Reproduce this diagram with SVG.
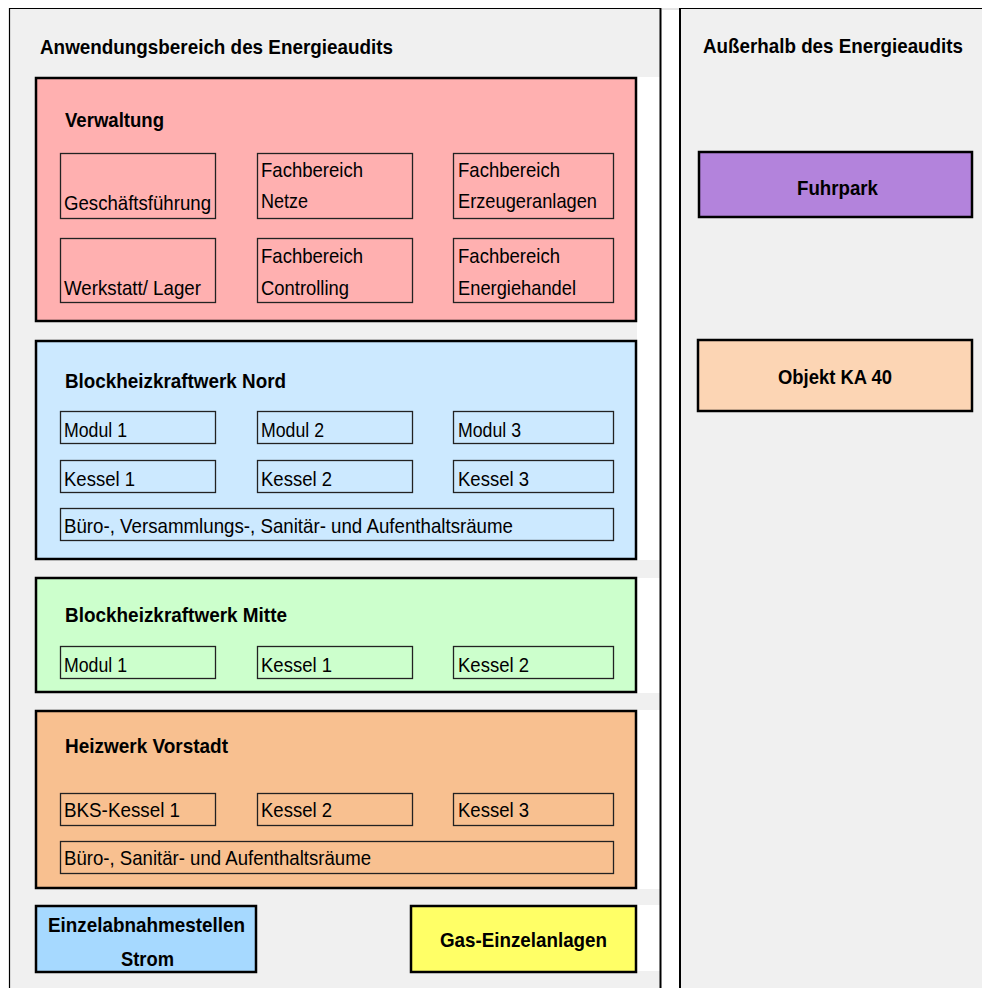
<svg xmlns="http://www.w3.org/2000/svg" width="982" height="988" viewBox="0 0 982 988">
<style>
text{font-family:"Liberation Sans",Arial,sans-serif;font-size:21px;fill:#000}
.b{font-weight:bold}
.outer{stroke:#000;stroke-width:2.5}
.inner{fill:none;stroke:#222;stroke-width:1.3}
</style>
<rect width="982" height="988" fill="#fff"/>
<g id="panel-left">
<rect x="9" y="8" width="652" height="980" fill="#f0f0f0"/>
<rect x="637" y="77" width="23" height="483" fill="#fff"/>
<rect x="637" y="578" width="23" height="115" fill="#fff"/>
<rect x="637" y="710" width="23" height="179" fill="#fff"/>
<rect x="637" y="905" width="23" height="66" fill="#fff"/>
<path d="M9.5 988V8.5H661" fill="none" stroke="#000" stroke-width="1.2"/>
<line x1="660.5" y1="8" x2="660.5" y2="988" stroke="#000" stroke-width="2"/>
<text class="b" x="40" y="54" textLength="353" lengthAdjust="spacingAndGlyphs">Anwendungsbereich des Energieaudits</text>
</g>
<g id="panel-right">
<rect x="680" y="8" width="302" height="980" fill="#f0f0f0"/>
<line x1="662" y1="9" x2="680" y2="9" stroke="#ccc" stroke-width="1"/>
<path d="M680 8.5H982" stroke="#000" stroke-width="1.2"/>
<line x1="680" y1="8" x2="680" y2="988" stroke="#000" stroke-width="2"/>
<text class="b" x="703" y="53" textLength="260" lengthAdjust="spacingAndGlyphs">Außerhalb des Energieaudits</text>
</g>
<g id="verwaltung">
<rect class="outer" x="36" y="78" width="600" height="243" fill="#ffb0b0"/>
<text class="b" x="65" y="127" textLength="99" lengthAdjust="spacingAndGlyphs">Verwaltung</text>
<rect class="inner" x="60.5" y="153.5" width="155" height="65"/>
<rect class="inner" x="257.5" y="153.5" width="155" height="65"/>
<rect class="inner" x="453.5" y="153.5" width="160" height="65"/>
<rect class="inner" x="60.5" y="238.5" width="155" height="64"/>
<rect class="inner" x="257.5" y="238.5" width="155" height="64"/>
<rect class="inner" x="453.5" y="238.5" width="160" height="64"/>
<text x="64" y="210" textLength="147" lengthAdjust="spacingAndGlyphs">Geschäftsführung</text>
<text x="261" y="177" textLength="102" lengthAdjust="spacingAndGlyphs">Fachbereich</text>
<text x="261" y="208" textLength="47" lengthAdjust="spacingAndGlyphs">Netze</text>
<text x="458" y="177" textLength="102" lengthAdjust="spacingAndGlyphs">Fachbereich</text>
<text x="458" y="208" textLength="139" lengthAdjust="spacingAndGlyphs">Erzeugeranlagen</text>
<text x="64" y="295" textLength="137" lengthAdjust="spacingAndGlyphs">Werkstatt/ Lager</text>
<text x="261" y="263" textLength="102" lengthAdjust="spacingAndGlyphs">Fachbereich</text>
<text x="261" y="295" textLength="88" lengthAdjust="spacingAndGlyphs">Controlling</text>
<text x="458" y="263" textLength="102" lengthAdjust="spacingAndGlyphs">Fachbereich</text>
<text x="458" y="295" textLength="118" lengthAdjust="spacingAndGlyphs">Energiehandel</text>
</g>
<g id="bhkw-nord">
<rect class="outer" x="36" y="341" width="600" height="218" fill="#cce9ff"/>
<text class="b" x="65" y="388" textLength="221" lengthAdjust="spacingAndGlyphs">Blockheizkraftwerk Nord</text>
<rect class="inner" x="60.5" y="411.5" width="155" height="32"/>
<rect class="inner" x="257.5" y="411.5" width="155" height="32"/>
<rect class="inner" x="453.5" y="411.5" width="160" height="32"/>
<rect class="inner" x="60.5" y="460.5" width="155" height="32"/>
<rect class="inner" x="257.5" y="460.5" width="155" height="32"/>
<rect class="inner" x="453.5" y="460.5" width="160" height="32"/>
<rect class="inner" x="60.5" y="508.5" width="553" height="32"/>
<text x="64" y="437" textLength="63" lengthAdjust="spacingAndGlyphs">Modul 1</text>
<text x="261" y="437" textLength="63" lengthAdjust="spacingAndGlyphs">Modul 2</text>
<text x="458" y="437" textLength="63" lengthAdjust="spacingAndGlyphs">Modul 3</text>
<text x="64" y="486" textLength="71" lengthAdjust="spacingAndGlyphs">Kessel 1</text>
<text x="261" y="486" textLength="71" lengthAdjust="spacingAndGlyphs">Kessel 2</text>
<text x="458" y="486" textLength="71" lengthAdjust="spacingAndGlyphs">Kessel 3</text>
<text x="64" y="533" textLength="449" lengthAdjust="spacingAndGlyphs">Büro-, Versammlungs-, Sanitär- und Aufenthaltsräume</text>
</g>
<g id="bhkw-mitte">
<rect class="outer" x="36" y="578" width="600" height="114" fill="#ccffcc"/>
<text class="b" x="65" y="622" textLength="222" lengthAdjust="spacingAndGlyphs">Blockheizkraftwerk Mitte</text>
<rect class="inner" x="60.5" y="646.5" width="155" height="32"/>
<rect class="inner" x="257.5" y="646.5" width="155" height="32"/>
<rect class="inner" x="453.5" y="646.5" width="160" height="32"/>
<text x="64" y="672" textLength="63" lengthAdjust="spacingAndGlyphs">Modul 1</text>
<text x="261" y="672" textLength="71" lengthAdjust="spacingAndGlyphs">Kessel 1</text>
<text x="458" y="672" textLength="71" lengthAdjust="spacingAndGlyphs">Kessel 2</text>
</g>
<g id="heizwerk">
<rect class="outer" x="36" y="711" width="600" height="177" fill="#f8c090"/>
<text class="b" x="65" y="753" textLength="163" lengthAdjust="spacingAndGlyphs">Heizwerk Vorstadt</text>
<rect class="inner" x="60.5" y="793.5" width="155" height="32"/>
<rect class="inner" x="257.5" y="793.5" width="155" height="32"/>
<rect class="inner" x="453.5" y="793.5" width="160" height="32"/>
<rect class="inner" x="60.5" y="841.5" width="553" height="32"/>
<text x="64" y="817" textLength="116" lengthAdjust="spacingAndGlyphs">BKS-Kessel 1</text>
<text x="261" y="817" textLength="71" lengthAdjust="spacingAndGlyphs">Kessel 2</text>
<text x="458" y="817" textLength="71" lengthAdjust="spacingAndGlyphs">Kessel 3</text>
<text x="64" y="865" textLength="307" lengthAdjust="spacingAndGlyphs">Büro-, Sanitär- und Aufenthaltsräume</text>
</g>
<g id="einzelabnahmestellen">
<rect class="outer" x="36" y="906" width="220" height="66" fill="#a6d9ff"/>
<text class="b" x="48" y="932" textLength="197" lengthAdjust="spacingAndGlyphs">Einzelabnahmestellen</text>
<text class="b" x="121" y="966" textLength="53" lengthAdjust="spacingAndGlyphs">Strom</text>
</g>
<g id="gas">
<rect class="outer" x="411" y="906" width="225" height="66" fill="#ffff66"/>
<text class="b" x="440" y="947" textLength="167" lengthAdjust="spacingAndGlyphs">Gas-Einzelanlagen</text>
</g>
<g id="fuhrpark">
<rect class="outer" x="699" y="152" width="273" height="65" fill="#b383dc"/>
<text class="b" x="797" y="195" textLength="81" lengthAdjust="spacingAndGlyphs">Fuhrpark</text>
</g>
<g id="objekt">
<rect class="outer" x="698" y="340" width="274" height="71" fill="#fcd5b4"/>
<text class="b" x="778" y="384" textLength="114" lengthAdjust="spacingAndGlyphs">Objekt KA 40</text>
</g>
<g id="connectors"></g>
</svg>
